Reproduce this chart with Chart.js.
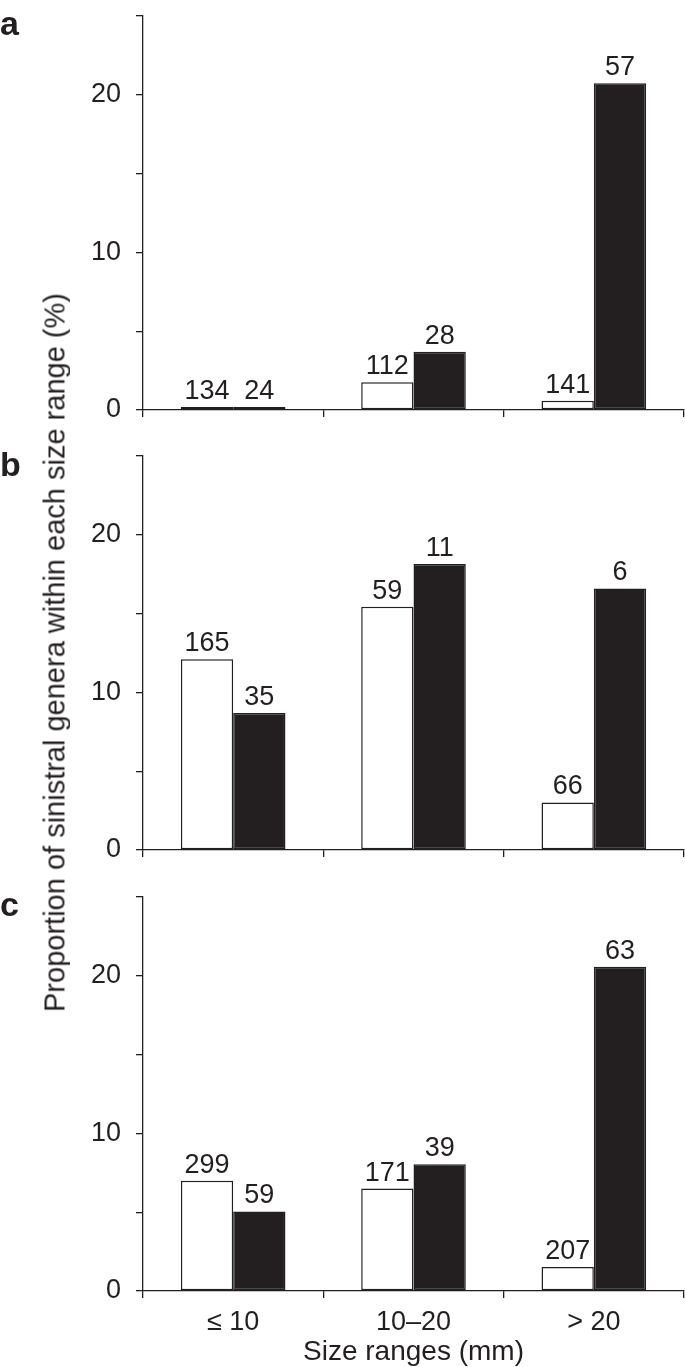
<!DOCTYPE html>
<html>
<head>
<meta charset="utf-8">
<script src="https://cdn.jsdelivr.net/npm/chart.js@4.4.1/dist/chart.umd.min.js"></script>
<style>
  body { margin: 0; background: #fff; }
  #page { position: relative; width: 685px; height: 1367px; overflow: hidden;
          font-family: "Liberation Sans", Arial, sans-serif; color: #231f20; }
  .panel { position: absolute; left: 0; }
  .letter { position: absolute; left: 0; font-weight: bold; font-size: 34px; line-height: 34px; }
  #ytitle { position: absolute; width: 900px; left: -395px; top: 638px; text-align: center;
            font-size: 29px; line-height: 29px; white-space: nowrap; transform: rotate(-90deg); }
</style>
</head>
<body>
<div id="page">
  <canvas id="chart-a" class="panel" width="685" height="440" style="top:0px"></canvas>
  <canvas id="chart-b" class="panel" width="685" height="440" style="top:440px"></canvas>
  <canvas id="chart-c" class="panel" width="685" height="487" style="top:880px"></canvas>
  <div class="letter" style="top:6px">a</div>
  <div class="letter" style="top:447px">b</div>
  <div class="letter" style="top:887px">c</div>
  <div id="ytitle">Proportion of sinistral genera within each size range (%)</div>
</div>
<script>
const sizeRanges = ['≤ 10', '10–20', '> 20'];

// panel a
const aOpen = [0, 1.76, 0.59];
const aFilled = [0, 3.7, 20.74];
const aOpenN = [134, 112, 141];
const aFilledN = [24, 28, 57];

// panel b
const bOpen = [12.1, 15.44, 3.02];
const bFilled = [8.7, 18.14, 16.6];
const bOpenN = [165, 59, 66];
const bFilledN = [35, 11, 6];

// panel c
const cOpen = [7.0, 6.5, 1.52];
const cFilled = [5.05, 8.04, 20.57];
const cOpenN = [299, 171, 207];
const cFilledN = [59, 39, 63];

const yTicks = [0, 10, 20];

const ink = '#231f20';
const fontFamily = '"Liberation Sans", Arial, sans-serif';

// write the genus counts above each bar
const countLabels = {
    id: 'countLabels',
    afterDatasetsDraw(chart) {
        const ctx = chart.ctx;
        ctx.save();
        ctx.font = '27px ' + fontFamily;
        ctx.fillStyle = ink;
        ctx.textAlign = 'center';
        ctx.textBaseline = 'alphabetic';
        chart.data.datasets.forEach((ds, i) => {
            chart.getDatasetMeta(i).data.forEach((bar, j) => {
                ctx.fillText(ds.counts[j], bar.x, bar.y - 8);
            });
        });
        ctx.restore();
    }
};

const makePanel = (id, open, filled, openN, filledN, bottom) => {
    const ctx = document.getElementById(id);
    new Chart(ctx, {
        type: 'bar',
        data: {
            labels: sizeRanges,
            datasets: [{
                data: open,
                counts: openN,
                backgroundColor: '#ffffff',
                borderColor: ink,
                borderWidth: 1.5,
                borderSkipped: false,
                minBarLength: 3
            },
            {
                data: filled,
                counts: filledN,
                backgroundColor: ink,
                borderColor: ink,
                borderWidth: 1.5,
                borderSkipped: false,
                minBarLength: 3
            }]
        },
        options: {
            responsive: false,
            animation: false,
            devicePixelRatio: 1,
            categoryPercentage: 0.58,
            barPercentage: 1,
            layout: { padding: { top: bottom ? 17 : 16, right: 1, left: 0, bottom: 0 } },
            plugins: {
                legend: { display: false },
                tooltip: { enabled: false }
            },
            scales: {
                x: {
                    afterFit: (scale) => {
                        scale.height = bottom ? 76 : 30;
                        scale.paddingLeft = 0;
                        scale.paddingRight = 0;
                    },
                    border: { color: ink, width: 1.3 },
                    grid: { drawOnChartArea: false, color: ink, lineWidth: 1.3, tickLength: 7, offset: true },
                    ticks: { display: bottom, padding: 8, color: ink, font: { family: fontFamily, size: 27 } },
                    title: {
                        display: bottom,
                        text: 'Size ranges (mm)',
                        color: ink,
                        font: { family: fontFamily, size: 28, lineHeight: 1 },
                        padding: { top: 0, bottom: 1 }
                    }
                },
                y: {
                    min: 0,
                    max: 25,
                    afterFit: (scale) => {
                        scale.width = 143;
                        scale.paddingTop = 0;
                        scale.paddingBottom = 0;
                    },
                    border: { color: ink, width: 1.3 },
                    grid: { drawOnChartArea: false, color: ink, lineWidth: 1.3, tickLength: 7 },
                    ticks: {
                        stepSize: 5,
                        padding: 15,
                        color: ink,
                        font: { family: fontFamily, size: 27 },
                        callback: (v) => yTicks.includes(v) ? v : ''
                    }
                }
            }
        },
        plugins: [countLabels]
    });
};

makePanel('chart-a', aOpen, aFilled, aOpenN, aFilledN, false);
makePanel('chart-b', bOpen, bFilled, bOpenN, bFilledN, false);
makePanel('chart-c', cOpen, cFilled, cOpenN, cFilledN, true);
</script>
</body>
</html>
